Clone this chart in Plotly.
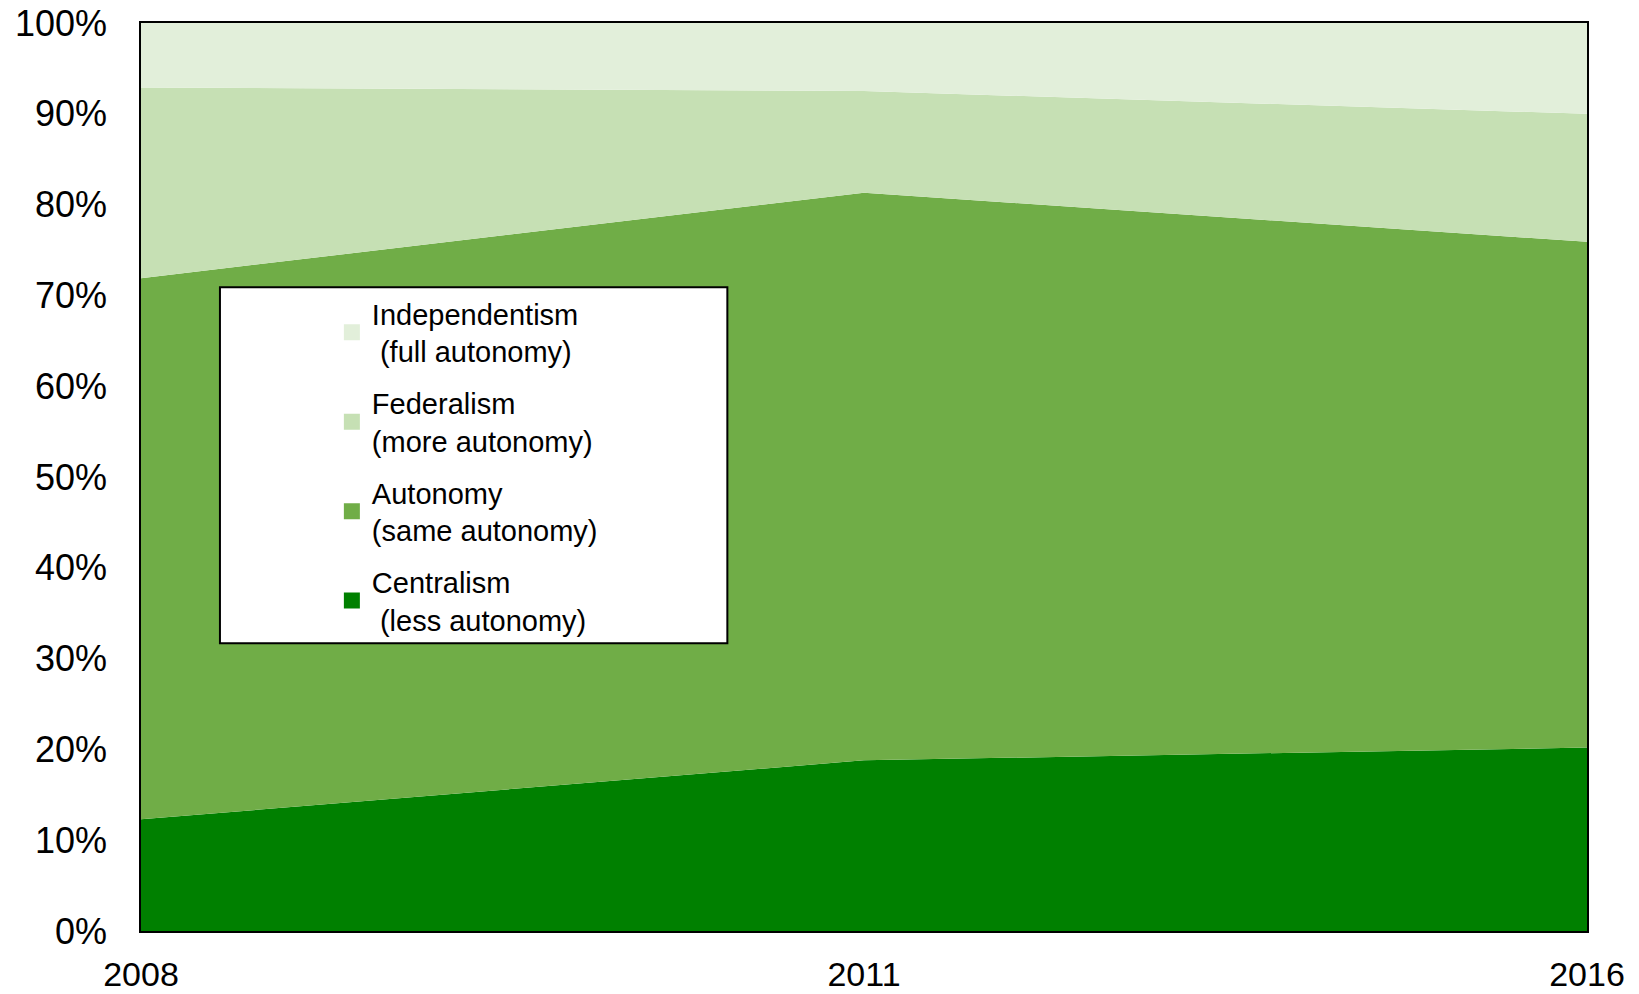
import plotly.graph_objects as go

years = ["2008", "2011", "2016"]
series_names = [
    "Centralism<br>\u00a0(less autonomy)",
    "Autonomy<br>(same autonomy)",
    "Federalism<br>(more autonomy)",
    "Independentism<br>\u00a0(full autonomy)",
]
centralism = [12.3, 18.8, 20.2]
autonomy = [59.6, 62.5, 55.7]
federalism = [21.0, 11.2, 14.1]
independentism = [7.1, 7.5, 10.0]
values = [centralism, autonomy, federalism, independentism]
colors = ["#008000", "#70AD47", "#C6E0B4", "#E2EFDA"]
y_ticks = [0, 10, 20, 30, 40, 50, 60, 70, 80, 90, 100]
y_tick_text = [f"{v}%" for v in y_ticks]

fig = go.Figure()
for name, vals, col in zip(series_names, values, colors):
    fig.add_trace(go.Scatter(
        x=years, y=vals, stackgroup="one", groupnorm="percent",
        mode="none", fillcolor=col, line=dict(width=0),
        showlegend=False, hoverinfo="x+y",
    ))
# legend entries (top to bottom: Independentism ... Centralism)
n = len(series_names)
for i in range(n):
    name, col = series_names[i], colors[i]
    fig.add_trace(go.Scatter(
        x=[None], y=[None], mode="markers", name=name,
        marker=dict(symbol="square", size=16, color=col),
        legendgroup=f"g{i}", legendrank=100 + (n - i), showlegend=True,
    ))

# legend frame (Excel style wide box)
fig.add_shape(type="rect", xref="paper", yref="paper",
              x0=0.0546, x1=0.4055, y0=0.317, y1=0.709,
              fillcolor="white", line=dict(color="black", width=2), layer="above")

fig.update_layout(
    width=1639, height=994,
    margin=dict(l=141, r=52, t=23, b=63, autoexpand=False),
    paper_bgcolor="white", plot_bgcolor="white",
    font=dict(family="Liberation Sans, Arial, sans-serif", color="black"),
    showlegend=True,
    legend=dict(
        x=0.132, y=0.708, xanchor="left", yanchor="top",
        bgcolor="rgba(0,0,0,0)", borderwidth=0,
        traceorder="grouped", tracegroupgap=11,
        font=dict(size=29, family="Liberation Sans, Arial, sans-serif", color="black"),
        itemwidth=30,
    ),
    xaxis=dict(
        type="category", range=[0, 2], showgrid=False, automargin=False,
        showline=True, linecolor="black", linewidth=1.5, mirror=True,
        ticks="outside", ticklen=12, tickcolor="rgba(0,0,0,0)",
        tickfont=dict(size=34), zeroline=False, ticklabeloverflow="allow",
    ),
    yaxis=dict(
        range=[0, 100], tickvals=y_ticks, ticktext=y_tick_text, showgrid=False,
        automargin=False,
        showline=True, linecolor="black", linewidth=1.5, mirror=True,
        ticks="outside", ticklen=25, tickcolor="rgba(0,0,0,0)",
        tickfont=dict(size=36), zeroline=False, ticklabeloverflow="allow",
    ),
)

fig.write_html("out.html", config={"displayModeBar": False},
               post_script="document.body.style.margin='0';")
